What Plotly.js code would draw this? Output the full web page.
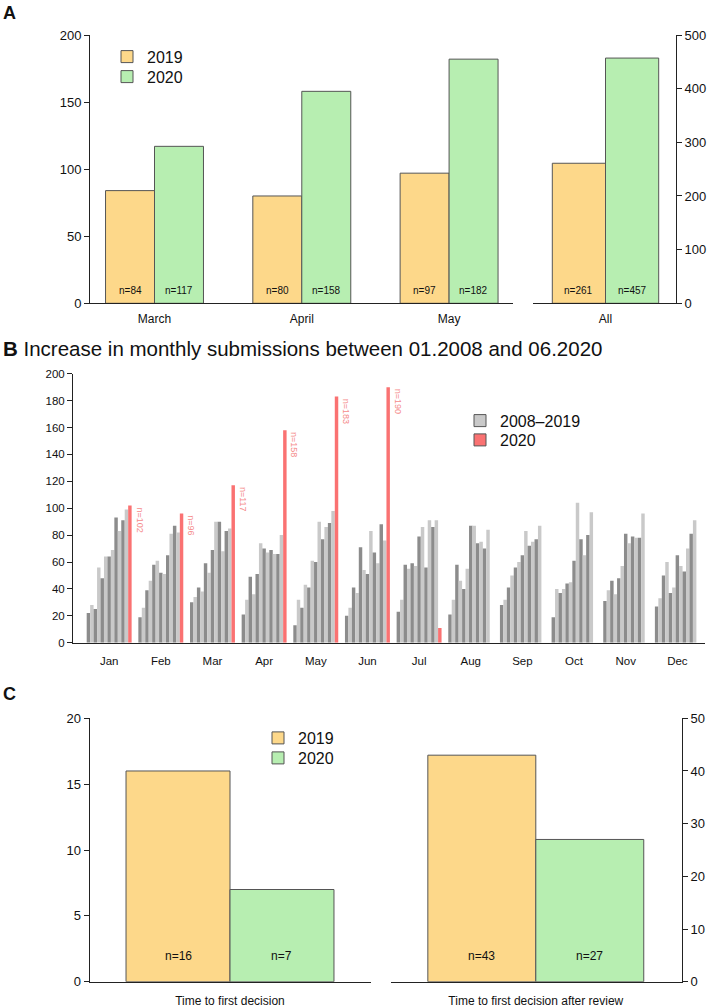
<!DOCTYPE html>
<html><head><meta charset="utf-8">
<script src="https://cdn.plot.ly/plotly-3.0.1.min.js"></script>
<style>html,body{margin:0;padding:0;background:#fff}#chart{width:709px;height:1008px}</style>
</head><body><div id="chart"></div>
<script>
// ---------- Panel A data ----------
const monthsA = ['March', 'April', 'May'];
const a2019 = [84, 80, 97];
const a2020 = [117, 158, 182];
const allLabel = ['All'];
const all2019 = [261];
const all2020 = [457];

// ---------- Panel B data (2008..2019 per calendar month) ----------
const monthsB = ['Jan','Feb','Mar','Apr','May','Jun','Jul','Aug','Sep','Oct','Nov','Dec'];
const years = ['2008','2009','2010','2011','2012','2013','2014','2015','2016','2017','2018','2019'];
const subJan = [22,28,25,56,48,64,64,69,93,83,91,99];
const subFeb = [19,26,39,46,58,61,52,51,65,81,87,82];
const subMar = [30,34,41,38,59,52,69,90,90,68,83,85];
const subApr = [21,32,49,36,51,74,70,67,69,66,66,80];
const subMay = [13,32,26,43,41,61,60,90,77,86,89,98];
const subJun = [20,26,41,37,71,54,51,83,67,59,88,76];
const subJul = [23,32,58,55,59,57,79,86,56,91,86,91];
const subAug = [21,32,58,46,40,55,87,87,74,75,70,84];
const subSep = [28,32,41,50,56,60,65,83,72,75,77,87];
const subOct = [19,40,37,40,44,45,61,104,77,65,80,97];
const subNov = [31,39,46,36,48,57,81,74,79,78,78,96];
const subDec = [27,33,50,60,37,41,65,57,53,70,81,91];
const sub2020 = [102,96,117,158,183,190,11,null,null,null,null,null];
const labelled2020 = ['Jan','Feb','Mar','Apr','May','Jun'];

// ---------- Panel C data ----------
const catC1 = ['Time to first decision'];
const c1_2019 = [16];
const c1_2020 = [7];
const catC2 = ['Time to first decision after review'];
const c2_2019 = [43];
const c2_2020 = [27];

// ---------- styling ----------
const W = 709, H = 1008;
const FONT = 'Liberation Sans, Arial, Helvetica, sans-serif';
const INK = '#111111';
const ORANGE = '#FDD88A', GREEN = '#B7EEB1', EDGE = '#555555';
const DARK = '#8C8C8C', LIGHT = '#C9C9C9', RED = '#FA7272', REDTXT = '#F58B8B';
const px = v => v / W;
const py = v => 1 - v / H;

const monthly = [subJan,subFeb,subMar,subApr,subMay,subJun,subJul,subAug,subSep,subOct,subNov,subDec];

const traces = [];
// Panel A
const wA = 0.3325, wAll = 0.372;
traces.push({type:'bar', x: monthsA, y: a2019, name:'2019', xaxis:'x', yaxis:'y', legend:'legend',
  width: wA, offset: -wA, marker:{color:ORANGE, line:{color:EDGE, width:1}}, hoverinfo:'skip'});
traces.push({type:'bar', x: monthsA, y: a2020, name:'2020', xaxis:'x', yaxis:'y', legend:'legend4',
  width: wA, offset: 0, marker:{color:GREEN, line:{color:EDGE, width:1}}, hoverinfo:'skip'});
traces.push({type:'bar', x: allLabel, y: all2019, name:'2019', xaxis:'x2', yaxis:'y2', showlegend:false,
  width: wAll, offset: -wAll, marker:{color:ORANGE, line:{color:EDGE, width:1}}, hoverinfo:'skip'});
traces.push({type:'bar', x: allLabel, y: all2020, name:'2020', xaxis:'x2', yaxis:'y2', showlegend:false,
  width: wAll, offset: 0, marker:{color:GREEN, line:{color:EDGE, width:1}}, hoverinfo:'skip'});

// Panel B
const WB = 0.87, nSlots = years.length + 1, slot = WB / nSlots;
years.forEach((yr, j) => {
  traces.push({type:'bar', x: monthsB, y: monthly.map(m => m[j]), name: yr, xaxis:'x3', yaxis:'y3',
    showlegend:false, width: slot, offset: -WB/2 + j*slot,
    marker:{color: j % 2 === 0 ? DARK : LIGHT, line:{width:0}}, hoverinfo:'skip'});
});
traces.push({type:'bar', x: monthsB, y: sub2020, name:'2020', xaxis:'x3', yaxis:'y3', showlegend:false,
  width: slot, offset: -WB/2 + years.length*slot, marker:{color: RED, line:{width:0}}, hoverinfo:'skip'});
// legend keys for panel B (outlined swatches): same series drawn on a hidden, out-of-range axis pair
traces.push({type:'bar', x: monthsB, y: subJan, name:'2008\u20132019', xaxis:'x6', yaxis:'y6', legend:'legend2',
  marker:{color: LIGHT, line:{color:EDGE, width:1}}, hoverinfo:'skip'});
traces.push({type:'bar', x: monthsB, y: sub2020, name:'2020', xaxis:'x6', yaxis:'y6', legend:'legend5',
  marker:{color: RED, line:{color:EDGE, width:1}}, hoverinfo:'skip'});

// Panel C
const wC1 = 0.370, wC2 = 0.371;
traces.push({type:'bar', x: catC1, y: c1_2019, name:'2019', xaxis:'x4', yaxis:'y4', legend:'legend3',
  width: wC1, offset: -wC1, marker:{color:ORANGE, line:{color:EDGE, width:1}}, hoverinfo:'skip'});
traces.push({type:'bar', x: catC1, y: c1_2020, name:'2020', xaxis:'x4', yaxis:'y4', legend:'legend6',
  width: wC1, offset: 0, marker:{color:GREEN, line:{color:EDGE, width:1}}, hoverinfo:'skip'});
traces.push({type:'bar', x: catC2, y: c2_2019, name:'2019', xaxis:'x5', yaxis:'y5', showlegend:false,
  width: wC2, offset: -wC2, marker:{color:ORANGE, line:{color:EDGE, width:1}}, hoverinfo:'skip'});
traces.push({type:'bar', x: catC2, y: c2_2020, name:'2020', xaxis:'x5', yaxis:'y5', showlegend:false,
  width: wC2, offset: 0, marker:{color:GREEN, line:{color:EDGE, width:1}}, hoverinfo:'skip'});

// ---------- annotations ----------
const ann = [];
const nLabel = (xref, yref, x, v, shift, size) => ann.push({xref, yref, x, y: 0, text: 'n=' + v,
  showarrow:false, xanchor:'center', yanchor:'middle', yshift: shift, font:{family:FONT, size, color:INK}});
monthsA.forEach((m, i) => { nLabel('x','y', i - wA/2, a2019[i], 12.6, 10); nLabel('x','y', i + wA/2, a2020[i], 12.6, 10); });
nLabel('x2','y2', -wAll/2, all2019[0], 12.6, 10); nLabel('x2','y2', wAll/2, all2020[0], 12.6, 10);
nLabel('x4','y4', -wC1/2, c1_2019[0], 26, 12); nLabel('x4','y4', wC1/2, c1_2020[0], 26, 12);
nLabel('x5','y5', -wC2/2, c2_2019[0], 26, 12); nLabel('x5','y5', wC2/2, c2_2020[0], 26, 12);
monthsB.forEach((m, i) => {
  if (labelled2020.includes(m) && sub2020[i] != null) {
    ann.push({xref:'x3', yref:'y3', x: i + WB/2, y: sub2020[i], text:'n=' + sub2020[i], textangle: 90,
      showarrow:false, xanchor:'left', yanchor:'top', xshift: 1, font:{family:FONT, size:9, color:REDTXT}});
  }
});
ann.push({xref:'paper', yref:'paper', x: px(1), y: py(13.5), xanchor:'left', yanchor:'middle', showarrow:false,
  text:'<b>A</b>', font:{family:FONT, size:18, color:INK}});
ann.push({xref:'paper', yref:'paper', x: px(1), y: py(348), xanchor:'left', yanchor:'middle', showarrow:false,
  text:'<b>B</b> Increase in monthly submissions between 01.2008 and 06.2020', font:{family:FONT, size:20.5, color:INK}});
ann.push({xref:'paper', yref:'paper', x: px(1), y: py(694), xanchor:'left', yanchor:'middle', showarrow:false,
  text:'<b>C</b>', font:{family:FONT, size:18, color:INK}});

// ---------- axes ----------
const xAx = (d0, d1, range, anchor, size, standoff) => ({domain:[px(d0), px(d1)], range, type:'category', anchor,
  showline:true, linecolor:'#222', linewidth:1, ticks:'', showgrid:false, zeroline:false, fixedrange:true,
  tickfont:{family:FONT, size, color:INK}, ticklabelstandoff: standoff});
const yAx = (top, bottom, range, dtick, anchor, side, size) => ({domain:[py(bottom), py(top)], range, dtick, anchor, side,
  showline:true, linecolor:'#222', linewidth:1, ticks:'outside', ticklen:5, tickcolor:'#222', showgrid:false,
  zeroline:false, fixedrange:true, tickfont:{family:FONT, size, color:INK}});

const legendBase = {xanchor:'left', yanchor:'top', bgcolor:'rgba(0,0,0,0)', borderwidth:0, tracegroupgap:0,
  traceorder:'normal', font:{family:FONT, size:16, color:INK}};
const leg = (x, top) => Object.assign({}, legendBase, {x: px(x), y: py(top)});

const layout = {
  width: W, height: H, margin:{l:0, r:0, t:0, b:0}, paper_bgcolor:'#fff', plot_bgcolor:'rgba(0,0,0,0)',
  barmode:'group', showlegend:true, font:{family:FONT, color:INK},
  xaxis:  xAx(90, 513, [-0.438, 2.434], 'y', 12, 4),
  yaxis:  yAx(35, 303.3, [0, 200], 50, 'x', 'left', 13),
  xaxis2: xAx(533, 676, [-0.507, 0.493], 'y2', 12, 4),
  yaxis2: yAx(35, 303.3, [0, 500], 100, 'x2', 'right', 13),
  xaxis3: xAx(73, 705, [-0.70, 11.535], 'y3', 11.5, 7),
  yaxis3: yAx(373.7, 642.7, [0, 200], 20, 'x3', 'left', 11.5),
  xaxis4: xAx(89.5, 370.5, [-0.5, 0.5], 'y4', 12, 8),
  yaxis4: yAx(718.3, 981.7, [0, 20], 5, 'x4', 'left', 13),
  xaxis5: xAx(391, 682, [-0.4976, 0.5024], 'y5', 12, 8),
  yaxis5: yAx(718.3, 981.7, [0, 50], 10, 'x5', 'right', 13),
  xaxis6: {domain:[0, 0.01], visible:false, anchor:'y6', fixedrange:true},
  yaxis6: {domain:[0, 0.01], range:[-2, -1], visible:false, anchor:'x6', fixedrange:true},
  legend:  leg(107, 39.7),
  legend4: leg(107, 59.7),
  legend2: leg(460, 403.7),
  legend5: leg(460, 423),
  legend3: leg(258, 721),
  legend6: leg(258, 741),
  annotations: ann
};

Plotly.newPlot('chart', traces, layout, {displayModeBar:false, staticPlot:true});
</script>
</body></html>
